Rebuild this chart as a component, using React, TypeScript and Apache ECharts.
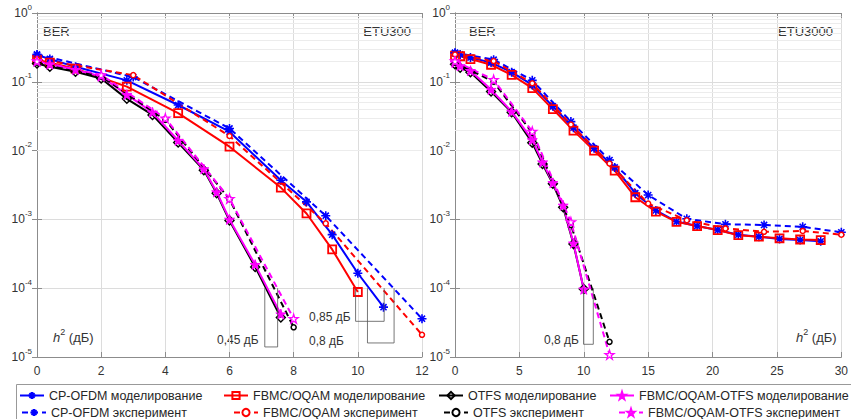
import React, { useEffect, useRef } from 'react';
import * as echarts from 'echarts';

// ---------- data: left panel (ETU300) ----------
const cpSimLX = [0, 0.4, 1.2, 2.8, 4.4, 6, 7.6, 8.4, 9.2, 10, 10.8];
const cpSimLY = [0.245, 0.215, 0.165, 0.105, 0.046, 0.0188, 0.0037, 0.0018, 0.0006, 0.000165, 0.000053];
const fbSimLX = [0, 0.4, 1.2, 2.8, 4.4, 6, 7.6, 8.4, 9.2, 10];
const fbSimLY = [0.21, 0.19, 0.155, 0.085, 0.035, 0.0114, 0.0029, 0.00122, 0.000366, 0.000088];
const otSimLX = [0, 0.4, 1.2, 2, 2.8, 3.6, 4.4, 5.2, 5.6, 6, 6.8, 7.6];
const otSimLY = [0.185, 0.165, 0.14, 0.112, 0.0565, 0.033, 0.0131, 0.0052, 0.0024, 0.00096, 0.000204, 0.0000375];
const foSimLY = [0.2, 0.18, 0.15, 0.12, 0.065, 0.036, 0.014, 0.0054, 0.0025, 0.001, 0.00022, 0.000042];
const cpExpLX = [0, 3, 6, 9, 12];
const cpExpLY = [0.25, 0.117, 0.021, 0.00113, 0.000036];
const fbExpLY = [0.215, 0.125, 0.0163, 0.000875, 0.000021];
const otExpLX = [0, 2, 4, 6, 8];
const otExpLY = [0.19, 0.12, 0.028, 0.00196, 0.000027];
const foExpLY = [0.2, 0.126, 0.0296, 0.002, 0.000036];

// ---------- data: right panel (ETU3000) ----------
const simRX = [0, 0.4, 1.2, 2.8, 4.4, 6, 7.6, 9.2, 10.8, 12.4, 14, 15.6, 17.2, 18.8, 20.4, 22, 23.6, 25.2, 26.8, 28.4];
const cpSimRY = [0.26, 0.25, 0.225, 0.19, 0.138, 0.09, 0.044, 0.0215, 0.0108, 0.0057, 0.0024, 0.00135, 0.00093, 0.0008, 0.0007, 0.0006, 0.00056, 0.00052, 0.0005, 0.00048];
const fbSimRY = [0.24, 0.235, 0.214, 0.177, 0.126, 0.081, 0.04, 0.0195, 0.01, 0.0051, 0.0021, 0.0013, 0.00092, 0.0008, 0.0007, 0.00059, 0.00056, 0.00053, 0.00051, 0.0005];
const otSimRX = [0, 0.4, 1.2, 2.8, 4.4, 6, 6.8, 7.6, 8.4, 9.2, 10];
const otSimRY = [0.18, 0.16, 0.138, 0.072, 0.036, 0.013, 0.0064, 0.0033, 0.0015, 0.00044, 0.000097];
const foSimRY = [0.19, 0.17, 0.145, 0.077, 0.037, 0.0143, 0.0068, 0.0034, 0.0016, 0.00045, 0.0000965];
const expRX = [0, 3, 6, 9, 12, 15, 18, 21, 24, 27, 30];
const cpExpRY = [0.265, 0.21, 0.105, 0.0264, 0.0073, 0.00226, 0.00102, 0.00085, 0.00083, 0.00078, 0.00065];
const fbExpRY = [0.25, 0.2, 0.095, 0.024, 0.0065, 0.0017, 0.00097, 0.00074, 0.00066, 0.00068, 0.0006];
const otExpRX = [0, 3, 6, 9, 12];
const otExpRY = [0.19, 0.1, 0.018, 0.00083, 0.0000166];
const foExpRY = [0.2, 0.107, 0.019, 0.00092, 0.0000108];

// ---------- annotation brackets (data coordinates) ----------
const br045 = [[7.1, 1e-4], [7.1, 1.4e-5], [7.5, 1.4e-5], [7.5, 1e-4]];
const br085 = [[9.93, 1e-4], [9.93, 3.3e-5], [10.82, 3.3e-5], [10.82, 1e-4]];
const br08L = [[10.3, 1e-4], [10.3, 1.6e-5], [11.13, 1.6e-5], [11.13, 1e-4]];
const br08R = [[9.98, 1e-4], [9.98, 1.53e-5], [10.74, 1.53e-5], [10.74, 1e-4]];

const xTicksL = { min: 0, max: 12, interval: 2 };
const xTicksR = { min: 0, max: 30, interval: 5 };
const minorExps = [-5, -4, -3, -2, -1];
const minorMult = [2, 3, 4, 5, 6, 7, 8, 9];

const names = [
  'CP-OFDM моделирование', 'FBMC/OQAM моделирование', 'OTFS моделирование', 'FBMC/OQAM-OTFS моделирование',
  'CP-OFDM эксперимент', 'FBMC/OQAM эксперимент', 'OTFS эксперимент', 'FBMC/OQAM-OTFS эксперимент',
];

const FONT = '"Liberation Sans", Arial, Helvetica, sans-serif';
const TXT = '#333333';
const AXC = '#8c8c8c';
const GRIDC = '#dcdcdc';
const MINC = '#ececec';

const ASTER = 'path://M5,0L5,10M0,5L10,5M1.6,1.6L8.4,8.4M8.4,1.6L1.6,8.4';
const STAR = 'path://M50,0L61.2,34.5L97.6,34.5L68.2,55.9L79.4,90.5L50,69.1L20.6,90.5L31.8,55.9L2.4,34.5L38.8,34.5Z';
const DASH = [6, 4];

type Sty = { color: string; dashed: boolean; symbol: string; size: number; fill: string; bw: number };
const styles: Sty[] = [
  { color: '#0000ff', dashed: false, symbol: ASTER, size: 9, fill: '#0000ff', bw: 1.6 },
  { color: '#ff0000', dashed: false, symbol: 'rect', size: 8, fill: 'rgba(255,255,255,0)', bw: 1.8 },
  { color: '#000000', dashed: false, symbol: 'diamond', size: 9, fill: 'rgba(255,255,255,0)', bw: 1.4 },
  { color: '#ff00ff', dashed: false, symbol: STAR, size: 10, fill: '#ff00ff', bw: 1 },
  { color: '#0000ff', dashed: true, symbol: ASTER, size: 9, fill: '#0000ff', bw: 1.6 },
  { color: '#ff0000', dashed: true, symbol: 'circle', size: 5, fill: '#ffffff', bw: 1.5 },
  { color: '#000000', dashed: true, symbol: 'circle', size: 5, fill: '#ffffff', bw: 1.5 },
  { color: '#ff00ff', dashed: true, symbol: STAR, size: 9, fill: '#ffffff', bw: 1.3 },
];

function pairs(xs: number[], ys: number[]) {
  return xs.map((x, i) => [x, ys[i]]);
}

function mkSeries(idx: number, g: number, xs: number[], ys: number[]) {
  const s = styles[idx];
  return {
    name: names[idx],
    type: 'line',
    xAxisIndex: g * 2,
    yAxisIndex: g * 2,
    data: pairs(xs, ys),
    symbol: s.symbol,
    symbolSize: s.size,
    showSymbol: true,
    showAllSymbol: true,
    lineStyle: { color: s.color, width: 2, type: s.dashed ? DASH : 'solid' },
    itemStyle: { color: s.fill, borderColor: s.color, borderWidth: s.bw },
    emphasis: { disabled: true },
    z: 3,
  };
}

function bracket(g: number, pts: number[][]) {
  return {
    type: 'line',
    xAxisIndex: g * 2,
    yAxisIndex: g * 2,
    data: pts,
    symbol: 'none',
    silent: true,
    lineStyle: { color: '#555555', width: 0.8 },
    z: 4,
  };
}

function minorGrid(g: number) {
  const vals: number[] = [];
  minorExps.forEach((e) => minorMult.forEach((m) => vals.push(m * Math.pow(10, e))));
  return {
    type: 'line',
    xAxisIndex: g * 2,
    yAxisIndex: g * 2,
    data: [[0, 1]],
    symbol: 'none',
    silent: true,
    lineStyle: { width: 0, opacity: 0 },
    markLine: {
      silent: true,
      symbol: 'none',
      z: 1,
      label: { show: false },
      lineStyle: { color: MINC, width: 1, type: 'solid' },
      emphasis: { disabled: true },
      data: vals.map((v) => ({ yAxis: v })),
    },
  };
}

function xAxes(g: number, t: { min: number; max: number; interval: number }) {
  const common = {
    gridIndex: g,
    type: 'value',
    min: t.min,
    max: t.max,
    interval: t.interval,
    axisLine: { show: true, lineStyle: { color: AXC, width: 1 } },
    axisTick: { show: true, inside: true, length: 5, lineStyle: { color: AXC } },
  };
  return [
    {
      ...common,
      position: 'bottom',
      axisLabel: { fontSize: 12, color: TXT, fontFamily: FONT, margin: 8 },
      splitLine: { show: true, lineStyle: { color: GRIDC, width: 1 } },
    },
    { ...common, position: 'top', axisLabel: { show: false }, splitLine: { show: false } },
  ];
}

function yAxes(g: number) {
  const common = {
    gridIndex: g,
    type: 'log',
    logBase: 10,
    min: 1e-5,
    max: 1,
    axisLine: { show: true, lineStyle: { color: AXC, width: 1 } },
    axisTick: { show: true, inside: true, length: 5, lineStyle: { color: AXC } },
    minorTick: { show: false },
  };
  return [
    {
      ...common,
      position: 'left',
      axisLabel: {
        margin: 5,
        formatter: (v: number) => `{b|10}{s|${Math.round(Math.log10(v))}}`,
        rich: {
          b: { fontSize: 12, color: TXT, fontFamily: FONT, lineHeight: 20 },
          s: { fontSize: 8, color: TXT, fontFamily: FONT, lineHeight: 10, verticalAlign: 'top' },
        },
      },
      splitLine: { show: true, lineStyle: { color: GRIDC, width: 1 } },
    },
    { ...common, position: 'right', axisLabel: { show: false }, splitLine: { show: false } },
  ];
}

const legendLeft1 = [19, 223, 438, 609];
const legendLeft2 = [21, 233, 443, 618];

function legends() {
  return names.map((n, i) => ({
    show: true,
    selectedMode: false,
    data: [n],
    left: i < 4 ? legendLeft1[i] : legendLeft2[i - 4],
    top: i < 4 ? 389 : 406,
    itemWidth: 24,
    itemHeight: 9,
    padding: 0,
    textStyle: { fontSize: 12.5, color: '#262626', fontFamily: FONT },
  }));
}

function txt(text: string, x: number, y: number, size: number, align: string = 'left') {
  return {
    type: 'text',
    x,
    y,
    silent: true,
    style: {
      text,
      fontSize: size,
      fontFamily: FONT,
      fill: TXT,
      textAlign: align,
      textVerticalAlign: 'middle',
    },
  };
}

function hLabel(x: number, y: number) {
  return {
    type: 'text',
    x,
    y,
    silent: true,
    style: {
      text: '{i|h}{s|2}{n| (дБ)}',
      fontFamily: FONT,
      fill: TXT,
      textVerticalAlign: 'middle',
      rich: {
        i: { fontSize: 13, fontStyle: 'italic', fontFamily: FONT, fill: TXT, lineHeight: 20 },
        s: { fontSize: 9, fontFamily: FONT, fill: TXT, lineHeight: 10, verticalAlign: 'top' },
        n: { fontSize: 13, fontFamily: FONT, fill: TXT, lineHeight: 20 },
      },
    },
  };
}

export default function App() {
  const ref = useRef<HTMLDivElement>(null);
  useEffect(() => {
    if (!ref.current) return;
    const chart = echarts.init(ref.current, undefined, { renderer: 'svg' });
    const option = {
      animation: false,
      backgroundColor: '#ffffff',
      textStyle: { fontFamily: FONT },
      grid: [
        { left: 37, top: 13, width: 385, height: 344 },
        { left: 455, top: 13, width: 394, height: 344 },
      ],
      xAxis: [...xAxes(0, xTicksL), ...xAxes(1, xTicksR)],
      yAxis: [...yAxes(0), ...yAxes(1)],
      legend: legends(),
      series: [
        minorGrid(0),
        minorGrid(1),
        mkSeries(0, 0, cpSimLX, cpSimLY),
        mkSeries(1, 0, fbSimLX, fbSimLY),
        mkSeries(2, 0, otSimLX, otSimLY),
        mkSeries(3, 0, otSimLX, foSimLY),
        mkSeries(4, 0, cpExpLX, cpExpLY),
        mkSeries(5, 0, cpExpLX, fbExpLY),
        mkSeries(6, 0, otExpLX, otExpLY),
        mkSeries(7, 0, otExpLX, foExpLY),
        mkSeries(0, 1, simRX, cpSimRY),
        mkSeries(1, 1, simRX, fbSimRY),
        mkSeries(2, 1, otSimRX, otSimRY),
        mkSeries(3, 1, otSimRX, foSimRY),
        mkSeries(4, 1, expRX, cpExpRY),
        mkSeries(5, 1, expRX, fbExpRY),
        mkSeries(6, 1, otExpRX, otExpRY),
        mkSeries(7, 1, otExpRX, foExpRY),
        bracket(0, br045),
        bracket(0, br085),
        bracket(0, br08L),
        bracket(1, br08R),
      ],
      graphic: [
        txt('BER', 43, 31, 13),
        txt('ETU300', 411, 31, 13, 'right'),
        txt('BER', 469, 31, 13),
        txt('ETU3000', 833, 31, 13, 'right'),
        hLabel(53, 337),
        hLabel(796, 337),
        txt('0,45 дБ', 217, 340, 12),
        txt('0,85 дБ', 309, 317, 12),
        txt('0,8 дБ', 309, 341, 12),
        txt('0,8 дБ', 544, 340, 12),
        {
          type: 'rect',
          silent: true,
          shape: { x: 16.5, y: 384.5, width: 850, height: 50 },
          style: { fill: 'none', stroke: '#999999', lineWidth: 1 },
          z: 0,
        },
      ],
    };
    chart.setOption(option as any);
    return () => chart.dispose();
  }, []);
  return (
    <div
      ref={ref}
      style={{ position: 'fixed', left: 0, top: 0, width: 851, height: 419, background: '#fff' }}
    />
  );
}
